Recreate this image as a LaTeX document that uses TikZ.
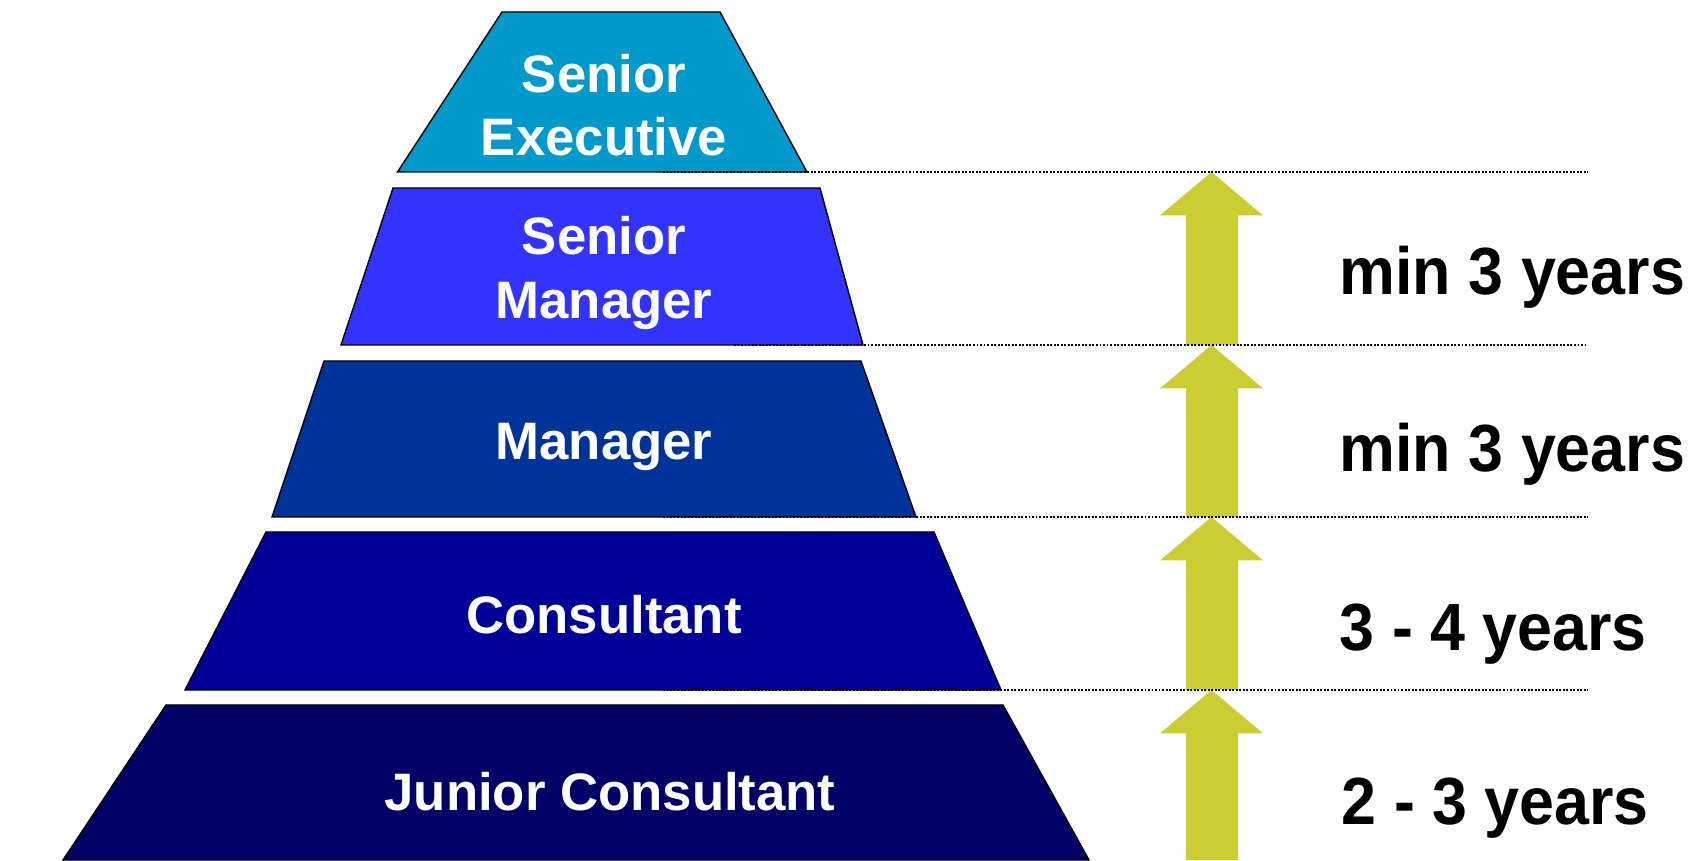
\documentclass[tikz,border=0pt]{standalone}
\usepackage{fontspec}
\setmainfont{Liberation Sans}
\newfontfamily\spanfont[FakeStretch = 0.94]{Liberation Sans}

\definecolor{execblue}{RGB}{0,153,204}
\definecolor{seniorblue}{RGB}{51,51,255}
\definecolor{managerblue}{RGB}{0,51,153}
\definecolor{consultblue}{RGB}{0,0,153}
\definecolor{juniorblue}{RGB}{0,0,102}
\definecolor{arrowyellow}{RGB}{204,204,51}

\tikzset{
    level/.style = {draw = black, line width = 0.4pt},
    rank/.style = {text = white, inner sep = 0, align = center,
        font = \fontsize{15}{18}\selectfont\bfseries},
    span/.style = {anchor = base west, inner sep = 0,
        font = \spanfont\fontsize{19}{23}\selectfont\bfseries},
    divider/.style = {line width = 0.8pt, dash pattern = on 0.55pt off 0.45pt}
}

\begin{document}
\begin{tikzpicture}
            \useasboundingbox (0, 0) rectangle (17.03, 8.6);
            % pyramid, top to bottom
            \draw [level, fill = execblue] (5.02, 8.48) -- (7.20, 8.48) -- (8.07, 6.88) -- (3.975, 6.88) -- cycle;
            \draw [level, fill = seniorblue] (3.93, 6.72) -- (8.20, 6.72) -- (8.63, 5.15) -- (3.41, 5.15) -- cycle;
            \draw [level, fill = managerblue] (3.24, 4.99) -- (8.61, 4.99) -- (9.16, 3.43) -- (2.72, 3.43) -- cycle;
            \draw [level, fill = consultblue] (2.66, 3.28) -- (9.34, 3.28) -- (10.01, 1.70) -- (1.85, 1.70) -- cycle;
            \draw [level, fill = juniorblue] (1.66, 1.55) -- (10.03, 1.55) -- (10.89, 0) -- (0.63, 0) -- cycle;
            \node [rank] (exec) at (6.04, 7.55) {Senior\\Executive};
            \node [rank] (smgr) at (6.04, 5.87) {Senior\\Manager};
            \node [rank] (mgr) at (6.04, 4.13) {Manager};
            \node [rank] (cons) at (6.04, 2.45) {Consultant};
            \node [rank] (junior) at (6.10, 0.68) {Junior Consultant};
            % promotion arrows
            \foreach \tip/\foot in {6.88/5.15, 5.15/3.43, 3.43/1.70, 1.70/0} {
                \fill [arrowyellow] (11.86, \foot) -- (11.86, \tip - 0.434) -- (11.60, \tip - 0.434) -- (12.115, \tip)
                    -- (12.63, \tip - 0.434) -- (12.38, \tip - 0.434) -- (12.38, \foot) -- cycle;
            }
            % level boundaries
            \draw [divider] (6.63, 6.88) -- (15.88, 6.88);
            \draw [divider] (7.34, 5.15) -- (15.88, 5.15);
            \draw [divider] (6.63, 3.43) -- (15.88, 3.43);
            \draw [divider] (6.63, 1.70) -- (15.88, 1.70);
            \node [span] (smgrtime) at (13.39, 5.65) {min 3 years};
            \node [span] (mgrtime) at (13.39, 3.88) {min 3 years};
            \node [span] (constime) at (13.39, 2.10) {3 - 4 years};
            \node [span] (juniortime) at (13.41, 0.35) {2 - 3 years};
        \end{tikzpicture}
\end{document}
